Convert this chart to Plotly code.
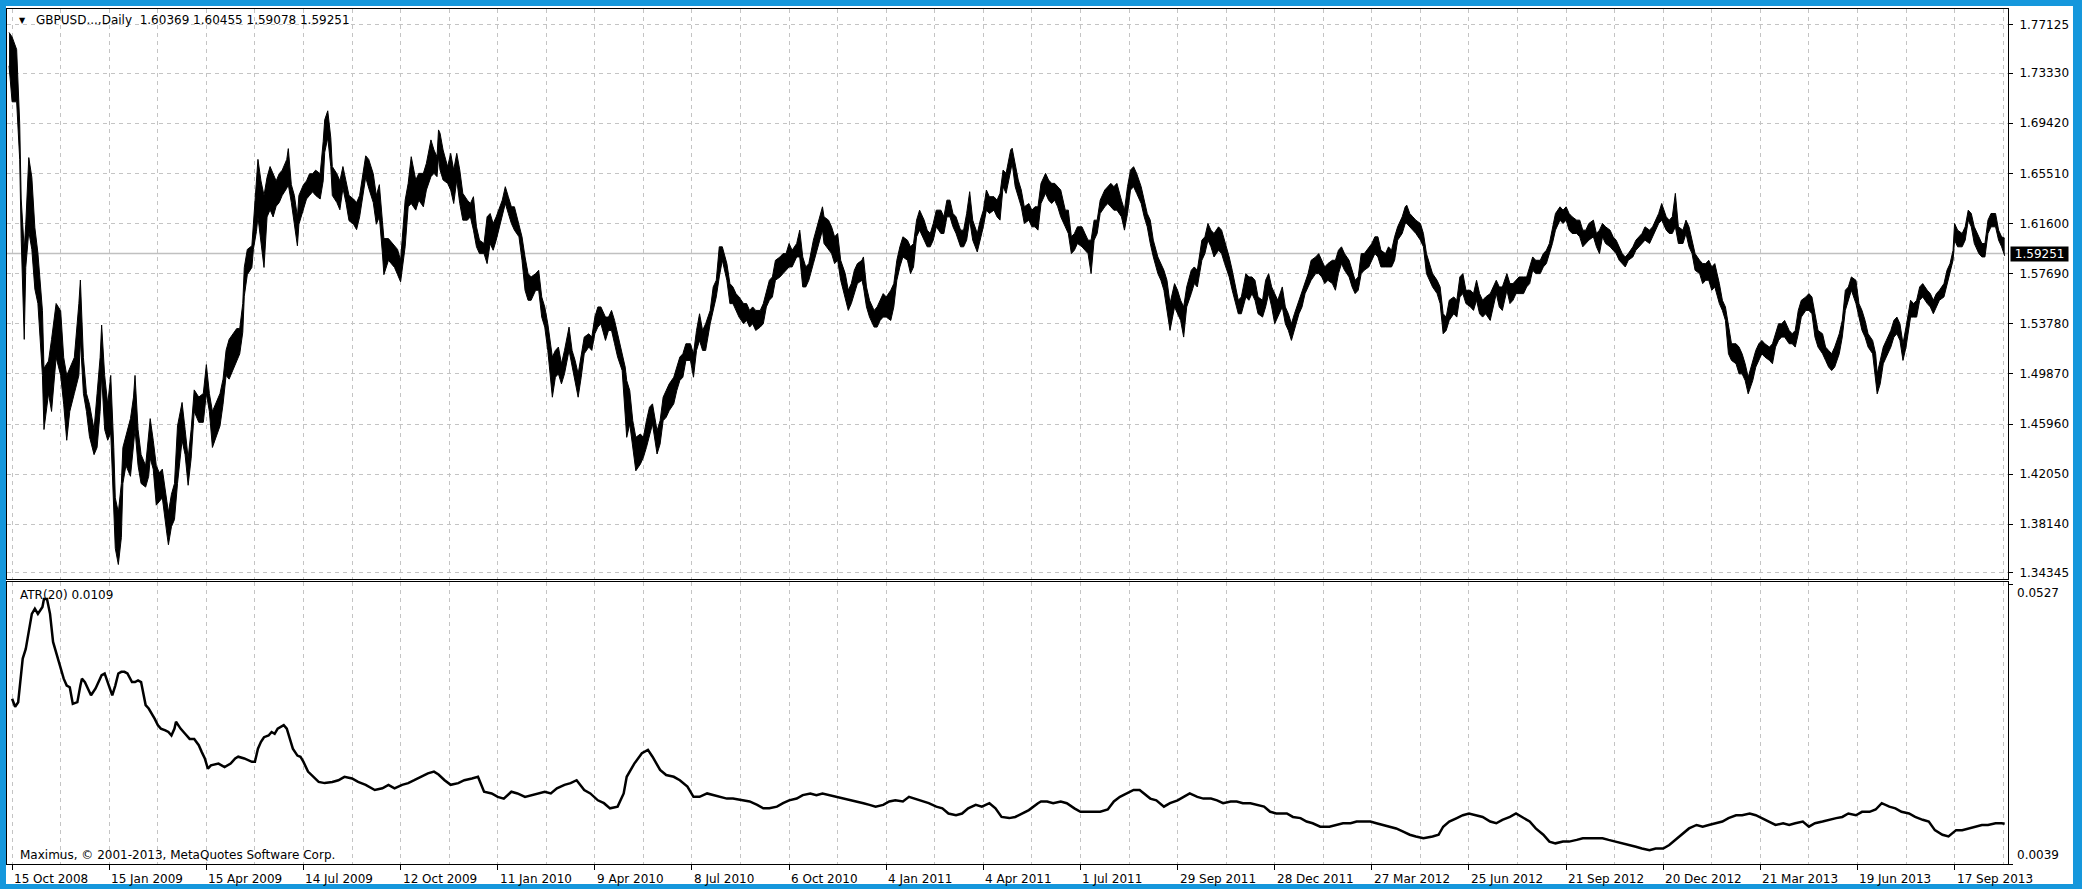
import plotly.graph_objects as go

# ---------------- data ----------------
# bar index 0 = first visible daily bar; 15 Oct 2008 is bar 2
bar_index = [
    0, 2, 5, 7, 8, 10, 11, 13, 15, 17, 19, 22, 23, 26, 28, 31, 34, 36, 38, 40,
    43, 46, 47, 49, 51, 53, 56, 58, 60, 61, 63, 65, 67, 69, 70, 72, 74, 75, 77, 80,
    82, 83, 85, 87, 90, 92, 93, 95, 97, 99, 101, 104, 105, 107, 109, 111, 114, 116, 118, 120,
    122, 125, 128, 130, 132, 134, 137, 139, 141, 143, 145, 148, 150, 152, 154, 155, 157, 160, 161, 163,
    164, 166, 168, 170, 172, 174, 176, 178, 180, 183, 184, 186, 188, 190, 191, 194, 196, 198, 200, 202,
    205, 207, 208, 210, 212, 213, 216, 218, 220, 222, 224, 227, 229, 231, 233, 235, 237, 240, 242, 244,
    246, 247, 250, 252, 254, 256, 258,
    261, 263, 265, 268, 270, 273, 275, 278, 280, 282, 283, 284, 286, 289, 291, 293, 295, 297, 299, 302,
    304, 306, 308, 310, 313, 315, 317, 319, 321, 325, 327, 329, 331, 333, 336, 338, 340, 342, 344, 347,
    349, 351, 353, 355, 358, 360, 362, 364, 366, 369, 371, 373, 375, 377, 379, 382, 384, 386, 388, 390,
    393, 395, 397, 399, 401, 404, 406, 407, 409, 411, 413, 416, 418, 420, 422, 424, 427, 429, 431, 433,
    435, 438, 440, 442, 444, 446, 449, 451, 453, 455, 457, 459, 462, 464, 466, 468, 470, 473, 475, 477,
    479, 481, 484, 486, 488, 490, 492, 495, 497, 499, 501, 503, 505, 508, 510, 512, 514, 516, 519, 521,
    523, 525, 527, 530,
    533, 536, 537, 540, 542, 544, 546, 548, 551, 553, 555, 557, 559, 562, 563, 565, 567, 570, 572, 574,
    576, 578, 581, 583, 585, 587, 589, 592, 594, 596, 598, 600, 603, 605, 607, 609, 611, 614, 616, 618,
    620, 622, 624, 627, 629, 631, 633, 635, 638, 640, 642, 644, 646, 649, 651, 653, 655, 657, 660, 661,
    663, 665, 667, 669, 672, 674, 676, 678, 680, 683, 685, 687, 689, 691, 693, 696, 698, 700, 702, 704,
    707, 709, 711, 713, 715, 717, 719, 722, 724, 726, 728, 730, 733, 735, 737, 739, 741, 743, 746, 748,
    750, 752, 754, 757, 759, 761, 763, 765, 768, 770, 772, 774, 776, 779, 781, 783, 786, 788, 790, 792,
    794,
    797, 799, 801, 804, 806, 808, 810, 812, 815, 817, 819, 821, 823, 826, 828, 830, 832, 834, 836, 839,
    841, 843, 845, 847, 850, 852, 854, 856, 858, 861, 863, 865, 867, 869, 872, 874, 876, 878, 880, 883,
    885, 887, 889, 891, 893, 896, 898, 900, 902, 904, 907, 909, 911, 913, 915, 918, 920, 921, 923, 925,
    927, 930, 932, 934, 936, 938, 941, 943, 945, 947, 949, 952, 954, 956, 958, 960, 963, 965, 967, 969,
    971, 973, 976, 978, 980, 982, 984, 987, 989, 991, 993, 995, 998, 1000, 1002, 1004, 1006, 1009, 1011, 1013,
    1015, 1017, 1019, 1022, 1024, 1026, 1028, 1030, 1033, 1035, 1037, 1039, 1041, 1044, 1046, 1048, 1050, 1052, 1055, 1057,
    1059, 1061, 1063, 1065, 1067, 1070, 1072, 1074, 1076, 1078, 1081, 1083, 1085, 1087, 1089, 1092, 1094, 1096, 1098, 1100,
    1103, 1105, 1107, 1109, 1111, 1114, 1116, 1118, 1120, 1122, 1124, 1127, 1129, 1131, 1133, 1135, 1138, 1140, 1142, 1144,
    1146, 1149, 1151, 1153, 1155, 1157, 1160, 1162, 1164, 1166, 1168, 1170, 1173, 1175, 1177, 1179, 1181, 1184, 1186, 1188,
    1190, 1192, 1195, 1197, 1199, 1201, 1203, 1206, 1208, 1210, 1212, 1214, 1217, 1219, 1221, 1223, 1225, 1228, 1230, 1231,
    1233, 1235, 1237, 1240, 1242, 1244, 1246, 1248, 1250, 1253, 1255, 1257, 1259, 1261, 1264, 1266, 1268, 1270, 1272, 1275,
    1277, 1279, 1281, 1282, 1284, 1287, 1289, 1291, 1293, 1295, 1298, 1300, 1302, 1304, 1306, 1309, 1311, 1313, 1315,
]

bar_high = [
    1.7650, 1.7615, 1.7517, 1.6941, 1.6351, 1.5958, 1.6154, 1.6674, 1.6520, 1.6126,
    1.5930, 1.5480, 1.5031, 1.5087, 1.5256, 1.5536, 1.5480, 1.5115, 1.4975, 1.5031,
    1.5115, 1.5536, 1.5719, 1.5115, 1.4834, 1.4750, 1.4553, 1.4834, 1.5115, 1.5368,
    1.4975, 1.4750, 1.4975, 1.4413, 1.4020, 1.3907, 1.4132, 1.4413, 1.4497, 1.4638,
    1.4806, 1.4975, 1.4553, 1.4357, 1.4272, 1.4553, 1.4638, 1.4469, 1.4272, 1.4216,
    1.4244, 1.3991, 1.3907, 1.4048, 1.4132, 1.4581, 1.4764, 1.4553, 1.4329, 1.4553,
    1.4862, 1.4806, 1.4834, 1.5059, 1.4834, 1.4694, 1.4778, 1.4834, 1.4946, 1.5171,
    1.5256, 1.5312, 1.5340, 1.5340, 1.5536, 1.5817, 1.5958, 1.5986, 1.6154, 1.6492,
    1.6660, 1.6492, 1.6379, 1.6520, 1.6604, 1.6548, 1.6492, 1.6548, 1.6576, 1.6660,
    1.6744, 1.6463, 1.6379, 1.6211, 1.6379, 1.6463, 1.6492, 1.6548, 1.6548, 1.6576,
    1.6548, 1.6800, 1.6969, 1.7039, 1.6828, 1.6604, 1.6548, 1.6492, 1.6604, 1.6492,
    1.6379, 1.6351, 1.6323, 1.6379, 1.6520, 1.6688, 1.6660, 1.6548, 1.6379, 1.6463,
    1.6182, 1.6042, 1.6042, 1.6014, 1.5986, 1.5958, 1.5873,
    1.6342, 1.6473, 1.6681, 1.6499, 1.6551, 1.6551, 1.6629, 1.6812, 1.6733, 1.6681,
    1.6890, 1.6864, 1.6733, 1.6603, 1.6707, 1.6577, 1.6707, 1.6577, 1.6395, 1.6342,
    1.6316, 1.6369, 1.6134, 1.6030, 1.6004, 1.6212, 1.6238, 1.6160, 1.6212, 1.6342,
    1.6447, 1.6369, 1.6290, 1.6290, 1.6160, 1.6056, 1.5899, 1.5769, 1.5743, 1.5769,
    1.5795, 1.5587, 1.5509, 1.5378, 1.5118, 1.5170, 1.5196, 1.5066, 1.5170, 1.5352,
    1.5170, 1.5092, 1.4987, 1.5118, 1.5274, 1.5300, 1.5274, 1.5430, 1.5509, 1.5509,
    1.5430, 1.5430, 1.5482, 1.5404, 1.5300, 1.5144, 1.5040, 1.4935, 1.4857, 1.4622,
    1.4492, 1.4518, 1.4492, 1.4622, 1.4727, 1.4753, 1.4544, 1.4622, 1.4805, 1.4857,
    1.4909, 1.4961, 1.5040, 1.5118, 1.5144, 1.5222, 1.5222, 1.5144, 1.5326, 1.5456,
    1.5326, 1.5378, 1.5482, 1.5665, 1.5717, 1.5978, 1.5978, 1.5847, 1.5691, 1.5665,
    1.5613, 1.5587, 1.5535, 1.5535, 1.5482, 1.5509, 1.5482, 1.5482, 1.5535, 1.5639,
    1.5717, 1.5743, 1.5873, 1.5899, 1.5925, 1.5925, 1.6004, 1.5951, 1.6004, 1.6108,
    1.5899, 1.5821, 1.5847, 1.6030,
    1.6160, 1.6290, 1.6212, 1.6186, 1.6134, 1.6056, 1.6082, 1.5873, 1.5769, 1.5639,
    1.5691, 1.5795, 1.5847, 1.5873, 1.5899, 1.5665, 1.5561, 1.5482, 1.5509, 1.5561,
    1.5613, 1.5587, 1.5639, 1.5691, 1.5873, 1.5978, 1.6056, 1.6030, 1.5978, 1.6004,
    1.6186, 1.6264, 1.6186, 1.6108, 1.6082, 1.6160, 1.6264, 1.6264, 1.6212, 1.6342,
    1.6342, 1.6238, 1.6212, 1.6108, 1.6108, 1.6238, 1.6408, 1.6186, 1.6082, 1.6186,
    1.6264, 1.6421, 1.6369, 1.6369, 1.6342, 1.6395, 1.6577, 1.6551, 1.6734, 1.6747,
    1.6629, 1.6499, 1.6421, 1.6290, 1.6316, 1.6264, 1.6290, 1.6290, 1.6473, 1.6551,
    1.6499, 1.6473, 1.6473, 1.6447, 1.6421, 1.6264, 1.6264, 1.6056, 1.6082, 1.6134,
    1.6134, 1.6082, 1.6030, 1.6030, 1.6186, 1.6186, 1.6342, 1.6421, 1.6447, 1.6473,
    1.6447, 1.6473, 1.6342, 1.6264, 1.6447, 1.6577, 1.6603, 1.6551, 1.6447, 1.6342,
    1.6238, 1.6186, 1.6030, 1.5899, 1.5847, 1.5795, 1.5717, 1.5535, 1.5691, 1.5639,
    1.5561, 1.5509, 1.5665, 1.5795, 1.5821, 1.5795, 1.6030, 1.6056, 1.6160, 1.6108,
    1.6082,
    1.6134, 1.6108, 1.6030, 1.5899, 1.5795, 1.5665, 1.5561, 1.5587, 1.5769, 1.5743,
    1.5743, 1.5717, 1.5587, 1.5561, 1.5717, 1.5769, 1.5665, 1.5613, 1.5561, 1.5665,
    1.5509, 1.5456, 1.5378, 1.5456, 1.5561, 1.5639, 1.5717, 1.5769, 1.5873, 1.5899,
    1.5925, 1.5873, 1.5821, 1.5847, 1.5873, 1.5873, 1.5951, 1.5978, 1.5925, 1.5873,
    1.5795, 1.5717, 1.5743, 1.5925, 1.5925, 1.5978, 1.6004, 1.6056, 1.6056, 1.5951,
    1.5925, 1.5978, 1.5951, 1.6056, 1.6134, 1.6212, 1.6290, 1.6303, 1.6238, 1.6212,
    1.6186, 1.6160, 1.6082, 1.5925, 1.5847, 1.5769, 1.5717, 1.5665, 1.5456, 1.5430,
    1.5561, 1.5587, 1.5561, 1.5743, 1.5769, 1.5639, 1.5639, 1.5613, 1.5717, 1.5613,
    1.5561, 1.5587, 1.5613, 1.5665, 1.5717, 1.5665, 1.5665, 1.5769, 1.5691, 1.5691,
    1.5717, 1.5743, 1.5743, 1.5743, 1.5821, 1.5899, 1.5873, 1.5873, 1.5925, 1.5951,
    1.6004, 1.6108, 1.6238, 1.6290, 1.6264, 1.6290, 1.6238, 1.6212, 1.6186, 1.6186,
    1.6108, 1.6108, 1.6160, 1.6186, 1.6082, 1.6108, 1.6160, 1.6134, 1.6108, 1.6056,
    1.6030, 1.5978, 1.5925, 1.5899, 1.5925, 1.5978, 1.6030, 1.6056, 1.6082, 1.6134,
    1.6108, 1.6134, 1.6186, 1.6238, 1.6316, 1.6212, 1.6186, 1.6212, 1.6395, 1.6134,
    1.6108, 1.6186, 1.6134, 1.6030, 1.5925, 1.5873, 1.5847, 1.5847, 1.5873, 1.5821,
    1.5847, 1.5691, 1.5561, 1.5509, 1.5352, 1.5222, 1.5222, 1.5196, 1.5144, 1.5066,
    1.4961, 1.5092, 1.5170, 1.5222, 1.5248, 1.5222, 1.5196, 1.5222, 1.5300, 1.5378,
    1.5378, 1.5404, 1.5326, 1.5300, 1.5326, 1.5482, 1.5561, 1.5587, 1.5613, 1.5587,
    1.5456, 1.5326, 1.5300, 1.5196, 1.5170, 1.5144, 1.5196, 1.5300, 1.5404, 1.5639,
    1.5665, 1.5743, 1.5717, 1.5535, 1.5482, 1.5404, 1.5300, 1.5248, 1.5144, 1.4987,
    1.5092, 1.5196, 1.5248, 1.5326, 1.5404, 1.5430, 1.5378, 1.5222, 1.5352, 1.5561,
    1.5535, 1.5561, 1.5665, 1.5691, 1.5639, 1.5613, 1.5561, 1.5613, 1.5639, 1.5691,
    1.5795, 1.5847, 1.5951, 1.6160, 1.6108, 1.6082, 1.6134, 1.6264, 1.6238, 1.6134,
    1.6056, 1.6004, 1.6004, 1.6186, 1.6238, 1.6238, 1.6108, 1.6056, 1.60455,
]

bar_low = [
    1.7390, 1.7109, 1.7109, 1.6660, 1.6042, 1.5256, 1.5817, 1.6098, 1.5958, 1.5649,
    1.5536, 1.4975, 1.4553, 1.4834, 1.4694, 1.5115, 1.4975, 1.4750, 1.4469, 1.4694,
    1.4834, 1.4975, 1.5256, 1.4834, 1.4694, 1.4497, 1.4357, 1.4413, 1.4694, 1.4975,
    1.4553, 1.4469, 1.4525, 1.3907, 1.3626, 1.3500, 1.3711, 1.4132, 1.4272, 1.4188,
    1.4413, 1.4553, 1.4272, 1.4132, 1.4104, 1.4188, 1.4329, 1.4244, 1.3963, 1.3991,
    1.4020, 1.3739, 1.3654, 1.3795, 1.3851, 1.4132, 1.4469, 1.4357, 1.4118, 1.4329,
    1.4694, 1.4609, 1.4609, 1.4834, 1.4694, 1.4413, 1.4525, 1.4581, 1.4750, 1.4975,
    1.4946, 1.5031, 1.5087, 1.5143, 1.5312, 1.5593, 1.5761, 1.5817, 1.5958, 1.6098,
    1.6211, 1.5986, 1.5817, 1.6211, 1.6267, 1.6211, 1.6295, 1.6323, 1.6379, 1.6435,
    1.6463, 1.6323, 1.6154, 1.5986, 1.6154, 1.6267, 1.6351, 1.6379, 1.6407, 1.6379,
    1.6351, 1.6492, 1.6716, 1.6828, 1.6604, 1.6379, 1.6323, 1.6267, 1.6435, 1.6323,
    1.6182, 1.6154, 1.6112, 1.6211, 1.6351, 1.6520, 1.6435, 1.6323, 1.6154, 1.6211,
    1.5930, 1.5761, 1.5873, 1.5845, 1.5817, 1.5761, 1.5705,
    1.5978, 1.6290, 1.6316, 1.6264, 1.6342, 1.6290, 1.6421, 1.6525, 1.6551, 1.6525,
    1.6681, 1.6577, 1.6499, 1.6473, 1.6421, 1.6316, 1.6499, 1.6316, 1.6186, 1.6186,
    1.6212, 1.6108, 1.5978, 1.5925, 1.5925, 1.5847, 1.6004, 1.5951, 1.6030, 1.6212,
    1.6316, 1.6238, 1.6160, 1.6108, 1.6056, 1.5873, 1.5639, 1.5561, 1.5561, 1.5639,
    1.5639, 1.5430, 1.5352, 1.5170, 1.4805, 1.4961, 1.4987, 1.4909, 1.4987, 1.5170,
    1.5040, 1.4935, 1.4805, 1.4961, 1.5144, 1.5196, 1.5170, 1.5300, 1.5352, 1.5378,
    1.5248, 1.5326, 1.5326, 1.5222, 1.5118, 1.5013, 1.4700, 1.4492, 1.4596, 1.4388,
    1.4231, 1.4283, 1.4336, 1.4414, 1.4518, 1.4596, 1.4362, 1.4440, 1.4622, 1.4648,
    1.4700, 1.4753, 1.4857, 1.4935, 1.4961, 1.5092, 1.5092, 1.4961, 1.5170, 1.5248,
    1.5170, 1.5170, 1.5378, 1.5482, 1.5587, 1.5743, 1.5873, 1.5717, 1.5535, 1.5535,
    1.5482, 1.5430, 1.5378, 1.5404, 1.5352, 1.5378, 1.5326, 1.5352, 1.5378, 1.5509,
    1.5561, 1.5587, 1.5717, 1.5743, 1.5769, 1.5795, 1.5821, 1.5821, 1.5899, 1.5899,
    1.5665, 1.5665, 1.5717, 1.5847,
    1.5978, 1.6108, 1.6004, 1.5951, 1.5925, 1.5847, 1.5873, 1.5717, 1.5587, 1.5482,
    1.5535, 1.5613, 1.5691, 1.5717, 1.5665, 1.5509, 1.5430, 1.5352, 1.5352, 1.5404,
    1.5430, 1.5430, 1.5404, 1.5509, 1.5717, 1.5821, 1.5899, 1.5873, 1.5769, 1.5821,
    1.6056, 1.6108, 1.6030, 1.5978, 1.5978, 1.6030, 1.6134, 1.6082, 1.6082, 1.6212,
    1.6212, 1.6134, 1.6082, 1.5978, 1.5978, 1.6030, 1.6186, 1.6030, 1.5938, 1.6030,
    1.6134, 1.6264, 1.6238, 1.6264, 1.6212, 1.6186, 1.6447, 1.6395, 1.6577, 1.6629,
    1.6447, 1.6369, 1.6290, 1.6160, 1.6186, 1.6134, 1.6134, 1.6108, 1.6316, 1.6395,
    1.6342, 1.6316, 1.6342, 1.6290, 1.6212, 1.6134, 1.6082, 1.5925, 1.5951, 1.6004,
    1.5978, 1.5951, 1.5925, 1.5769, 1.6030, 1.6082, 1.6238, 1.6290, 1.6316, 1.6290,
    1.6264, 1.6264, 1.6212, 1.6108, 1.6238, 1.6421, 1.6447, 1.6395, 1.6316, 1.6212,
    1.6134, 1.6004, 1.5899, 1.5769, 1.5717, 1.5639, 1.5482, 1.5326, 1.5509, 1.5456,
    1.5404, 1.5274, 1.5509, 1.5613, 1.5691, 1.5665, 1.5873, 1.5925, 1.6030, 1.5978,
    1.5899,
    1.5951, 1.5925, 1.5847, 1.5743, 1.5639, 1.5535, 1.5456, 1.5456, 1.5587, 1.5561,
    1.5613, 1.5561, 1.5456, 1.5430, 1.5509, 1.5613, 1.5509, 1.5378, 1.5430, 1.5509,
    1.5378, 1.5326, 1.5248, 1.5326, 1.5456, 1.5509, 1.5613, 1.5665, 1.5717, 1.5769,
    1.5769, 1.5743, 1.5691, 1.5717, 1.5691, 1.5639, 1.5769, 1.5847, 1.5795, 1.5743,
    1.5665, 1.5613, 1.5639, 1.5769, 1.5795, 1.5821, 1.5873, 1.5925, 1.5899, 1.5821,
    1.5821, 1.5821, 1.5821, 1.5873, 1.6030, 1.6082, 1.6160, 1.6160, 1.6134, 1.6108,
    1.6082, 1.6030, 1.5978, 1.5769, 1.5717, 1.5665, 1.5613, 1.5535, 1.5300, 1.5326,
    1.5404, 1.5456, 1.5430, 1.5587, 1.5613, 1.5535, 1.5509, 1.5482, 1.5561, 1.5456,
    1.5430, 1.5456, 1.5404, 1.5509, 1.5613, 1.5509, 1.5482, 1.5639, 1.5535, 1.5561,
    1.5613, 1.5613, 1.5613, 1.5665, 1.5691, 1.5795, 1.5769, 1.5769, 1.5821, 1.5847,
    1.5925, 1.6004, 1.6108, 1.6186, 1.6160, 1.6186, 1.6108, 1.6082, 1.6082, 1.6056,
    1.5978, 1.6004, 1.6030, 1.6056, 1.5978, 1.5925, 1.6056, 1.6004, 1.5978, 1.5951,
    1.5925, 1.5873, 1.5847, 1.5821, 1.5873, 1.5899, 1.5951, 1.5978, 1.6004, 1.6030,
    1.6004, 1.6056, 1.6108, 1.6160, 1.6186, 1.6108, 1.6082, 1.6082, 1.6134, 1.6004,
    1.6004, 1.6082, 1.5978, 1.5925, 1.5795, 1.5769, 1.5691, 1.5717, 1.5717, 1.5639,
    1.5665, 1.5535, 1.5482, 1.5404, 1.5144, 1.5092, 1.5066, 1.4987, 1.4987, 1.4935,
    1.4831, 1.4935, 1.5040, 1.5092, 1.5144, 1.5118, 1.5092, 1.5066, 1.5196, 1.5248,
    1.5274, 1.5274, 1.5222, 1.5222, 1.5196, 1.5300, 1.5430, 1.5482, 1.5482, 1.5456,
    1.5274, 1.5196, 1.5144, 1.5092, 1.5040, 1.5013, 1.5040, 1.5144, 1.5274, 1.5482,
    1.5561, 1.5639, 1.5535, 1.5430, 1.5326, 1.5274, 1.5196, 1.5144, 1.4961, 1.4831,
    1.4909, 1.5066, 1.5118, 1.5196, 1.5274, 1.5300, 1.5248, 1.5092, 1.5196, 1.5430,
    1.5430, 1.5430, 1.5561, 1.5587, 1.5535, 1.5509, 1.5456, 1.5509, 1.5561, 1.5587,
    1.5691, 1.5769, 1.5873, 1.6030, 1.5978, 1.5978, 1.6030, 1.6186, 1.6134, 1.6004,
    1.5925, 1.5899, 1.5899, 1.6082, 1.6134, 1.6134, 1.6030, 1.5978, 1.59078,
]

atr_index = [
    2, 4, 6, 7, 9, 11, 13, 15, 17, 19, 22, 23, 25, 27, 29, 31, 34, 36, 38, 40,
    42, 45, 47, 48, 50, 52, 54, 57, 59, 61, 63, 65, 68, 70, 72, 74, 76, 78, 81, 83,
    85, 87, 90, 92, 94, 96, 98, 100, 103, 105, 107, 109, 110, 113, 116, 119, 122, 125, 127, 129,
    131, 133, 138, 142, 146, 149, 151, 155, 160, 162, 164, 166, 168, 171, 173, 175, 177, 181, 183, 185,
    187, 190, 192, 194, 197, 204, 208, 213, 217, 221, 226, 230, 235, 241, 246, 250, 254, 259, 263, 267,
    272, 276, 280, 283, 287, 291, 296, 300, 305, 309, 313, 318, 322, 326, 331, 335, 340, 344, 348, 353,
    357, 361, 366, 370, 374, 379, 383, 388, 392, 396, 401, 405, 407, 412, 417, 421, 424, 426, 429, 433,
    438, 442, 447, 451, 455, 460, 464, 468, 473, 477, 484, 488, 493, 497, 501, 506, 510, 514, 519, 523,
    528, 532, 536, 541, 545, 549, 554, 558, 563, 567, 571, 576, 580, 584, 589, 593, 597, 602, 606, 611,
    615, 619, 624, 628, 632, 637, 641, 646, 650, 654, 659, 663, 667, 672, 678, 680, 684, 688, 693, 697,
    702, 706, 710, 715, 719, 724, 728, 732, 737, 741, 745, 748, 752, 756, 761, 765, 770, 774, 778, 783,
    787, 792, 796, 800, 805, 809, 813, 818, 822, 827, 831, 835, 842, 846, 851, 855, 859, 864, 870, 875,
    879, 884, 888, 892, 897, 901, 905, 910, 914, 919, 923, 927, 932, 938, 942, 945, 949, 954, 958, 962,
    967, 971, 976, 980, 984, 989, 993, 998, 1002, 1006, 1011, 1015, 1019, 1024, 1028, 1033, 1037, 1041, 1046, 1050,
    1054, 1059, 1063, 1068, 1072, 1076, 1081, 1085, 1090, 1094, 1098, 1103, 1107, 1112, 1116, 1120, 1125, 1129, 1133, 1138,
    1142, 1147, 1151, 1155, 1160, 1164, 1169, 1173, 1177, 1182, 1186, 1190, 1195, 1199, 1204, 1208, 1212, 1217, 1221, 1226,
    1230, 1234, 1239, 1243, 1247, 1252, 1256, 1261, 1265, 1269, 1274, 1278, 1283, 1287, 1291, 1296, 1300, 1304, 1309, 1313,
    1315,
]

atr_value = [
    0.0327, 0.0313, 0.0321, 0.0350, 0.0397, 0.0414, 0.0446, 0.0475, 0.0484, 0.0475,
    0.0487, 0.0501, 0.0501, 0.0475, 0.0426, 0.0408, 0.0379, 0.0362, 0.0350, 0.0347,
    0.0318, 0.0321, 0.0350, 0.0362, 0.0356, 0.0345, 0.0333, 0.0345, 0.0356, 0.0368,
    0.0371, 0.0356, 0.0333, 0.0350, 0.0371, 0.0374, 0.0374, 0.0371, 0.0356, 0.0356,
    0.0359, 0.0356, 0.0316, 0.0310, 0.0302, 0.0292, 0.0281, 0.0275, 0.0272, 0.0269,
    0.0263, 0.0275, 0.0287, 0.0275, 0.0266, 0.0257, 0.0257, 0.0246, 0.0234, 0.0223,
    0.0205, 0.0211, 0.0214, 0.0208, 0.0214, 0.0223, 0.0226, 0.0223, 0.0217, 0.0217,
    0.0240, 0.0252, 0.0260, 0.0263, 0.0269, 0.0266, 0.0275, 0.0281, 0.0275, 0.0257,
    0.0240, 0.0228, 0.0226, 0.0217, 0.0200, 0.0182, 0.0180, 0.0182, 0.0185, 0.0191,
    0.0188, 0.0182, 0.0177, 0.0168, 0.0171, 0.0177, 0.0171, 0.0177, 0.0180, 0.0185,
    0.0191, 0.0197, 0.0200, 0.0195, 0.0185, 0.0177, 0.0180, 0.0185, 0.0188, 0.0191,
    0.0165, 0.0162, 0.0156, 0.0153, 0.0165, 0.0162, 0.0156, 0.0159, 0.0162, 0.0165,
    0.0162, 0.0171, 0.0177, 0.0180, 0.0185, 0.0168, 0.0162, 0.0150, 0.0145, 0.0136,
    0.0139, 0.0162, 0.0191, 0.0214, 0.0232, 0.0238, 0.0226, 0.0217, 0.0203, 0.0194,
    0.0191, 0.0185, 0.0174, 0.0156, 0.0156, 0.0162, 0.0159, 0.0156, 0.0153, 0.0153,
    0.0150, 0.0148, 0.0142, 0.0136, 0.0136, 0.0139, 0.0145, 0.0150, 0.0153, 0.0159,
    0.0162, 0.0159, 0.0162, 0.0159, 0.0156, 0.0153, 0.0150, 0.0148, 0.0145, 0.0142,
    0.0139, 0.0142, 0.0148, 0.0150, 0.0148, 0.0156, 0.0153, 0.0148, 0.0145, 0.0139,
    0.0136, 0.0127, 0.0124, 0.0127, 0.0136, 0.0142, 0.0139, 0.0145, 0.0136, 0.0121,
    0.0119, 0.0121, 0.0127, 0.0133, 0.0145, 0.0148, 0.0148, 0.0145, 0.0148, 0.0145,
    0.0136, 0.0130, 0.0130, 0.0130, 0.0130, 0.0134, 0.0148, 0.0156, 0.0162, 0.0168,
    0.0168, 0.0162, 0.0153, 0.0150, 0.0139, 0.0145, 0.0150, 0.0156, 0.0162, 0.0156,
    0.0153, 0.0153, 0.0150, 0.0145, 0.0148, 0.0148, 0.0145, 0.0145, 0.0142, 0.0139,
    0.0130, 0.0127, 0.0127, 0.0121, 0.0119, 0.0113, 0.0110, 0.0104, 0.0104, 0.0107,
    0.0110, 0.0110, 0.0113, 0.0113, 0.0113, 0.0110, 0.0107, 0.0104, 0.0101, 0.0095,
    0.0090, 0.0087, 0.0084, 0.0087, 0.0090, 0.0104, 0.0113, 0.0119, 0.0124, 0.0127,
    0.0124, 0.0121, 0.0113, 0.0110, 0.0116, 0.0121, 0.0127, 0.0119, 0.0113, 0.0101,
    0.0090, 0.0078, 0.0075, 0.0078, 0.0078, 0.0081, 0.0084, 0.0084, 0.0084, 0.0084,
    0.0081, 0.0078, 0.0075, 0.0072, 0.0069, 0.0066, 0.0063, 0.0066, 0.0066, 0.0072,
    0.0081, 0.0092, 0.0101, 0.0107, 0.0104, 0.0107, 0.0110, 0.0113, 0.0119, 0.0124,
    0.0124, 0.0127, 0.0124, 0.0119, 0.0113, 0.0107, 0.0110, 0.0107, 0.0110, 0.0113,
    0.0104, 0.0110, 0.0113, 0.0116, 0.0119, 0.0121, 0.0127, 0.0124, 0.0130, 0.0130,
    0.0134, 0.0145, 0.0139, 0.0136, 0.0130, 0.0127, 0.0121, 0.0116, 0.0113, 0.0098,
    0.0090, 0.0087, 0.0098, 0.0098, 0.0101, 0.0104, 0.0107, 0.0107, 0.0110, 0.0110,
    0.0109,
]

price_ticks = [1.77125, 1.73330, 1.69420, 1.65510, 1.61600, 1.57690,
               1.53780, 1.49870, 1.45960, 1.42050, 1.38140, 1.34345]

date_labels = ["15 Oct 2008", "15 Jan 2009", "15 Apr 2009", "14 Jul 2009", "12 Oct 2009",
               "11 Jan 2010", "9 Apr 2010", "8 Jul 2010", "6 Oct 2010", "4 Jan 2011",
               "4 Apr 2011", "1 Jul 2011", "29 Sep 2011", "28 Dec 2011", "27 Mar 2012",
               "25 Jun 2012", "21 Sep 2012", "20 Dec 2012", "21 Mar 2013", "19 Jun 2013",
               "17 Sep 2013"]
date_tick_index = [2, 66, 130, 194, 258, 322, 386, 450, 514, 578, 642,
                   706, 770, 834, 898, 962, 1026, 1090, 1154, 1218, 1282]

last_open, last_high, last_low, last_close = 1.60369, 1.60455, 1.59078, 1.59251
atr_last = 0.0109
atr_max_label, atr_min_label = 0.0527, 0.0039
symbol_text = "GBPUSD...,Daily"
copyright_text = "Maximus, \u00a9 2001-2013, MetaQuotes Software Corp."

# ---------------- styling ----------------
W, H = 2082, 889
BLUE = "#1597DC"
GRID = "#C4C4C4"
FONT = "DejaVu Sans, Verdana, sans-serif"
FS = 12
X_RANGE = [-1.36, 1317.2]

fig = go.Figure()

# price: band between daily highs and lows
fig.add_trace(go.Scatter(x=bar_index, y=bar_high, mode="lines",
                         line=dict(color="black", width=1), hoverinfo="skip",
                         xaxis="x", yaxis="y", showlegend=False))
fig.add_trace(go.Scatter(x=bar_index, y=bar_low, mode="lines",
                         line=dict(color="black", width=1), fill="tonexty",
                         fillcolor="black", hoverinfo="skip",
                         xaxis="x", yaxis="y", showlegend=False))

# ATR(20)
fig.add_trace(go.Scatter(x=atr_index, y=atr_value, mode="lines",
                         line=dict(color="black", width=2.5),
                         hoverinfo="skip", xaxis="x2", yaxis="y2", showlegend=False))

axis_line = dict(showline=True, mirror=True, linecolor="black", linewidth=1, zeroline=False)

fig.update_layout(
    width=W, height=H, autosize=False,
    margin=dict(l=7, r=74, t=9, b=25, pad=0),
    paper_bgcolor=BLUE, plot_bgcolor="white",
    font=dict(family=FONT, size=FS, color="black"),
    xaxis=dict(domain=[0, 1], range=X_RANGE, anchor="y",
               tickmode="linear", tick0=2, dtick=32, showticklabels=False, ticks="",
               showgrid=True, gridcolor=GRID, griddash="4px,4px", gridwidth=1,
               **axis_line),
    yaxis=dict(domain=[0.33333, 1], range=[1.3387, 1.7833], side="right", anchor="x",
               tickmode="array", tickvals=price_ticks,
               ticktext=[f"{v:.5f}" for v in price_ticks],
               ticks="outside", ticklen=4, tickcolor="black", ticklabelstandoff=4,
               tickfont=dict(family=FONT, size=FS, color="black"),
               showgrid=True, gridcolor=GRID, griddash="4px,4px", gridwidth=1,
               **axis_line),
    xaxis2=dict(domain=[0, 1], range=X_RANGE, anchor="y2",
                tickmode="array", tickvals=date_tick_index, showticklabels=False,
                ticks="outside", ticklen=5, tickcolor="black",
                showgrid=True, gridcolor=GRID, griddash="4px,4px", gridwidth=1,
                minor=dict(tickmode="linear", tick0=34, dtick=64, showgrid=True,
                           gridcolor=GRID, griddash="4px,4px", gridwidth=1, ticks=""),
                **axis_line),
    yaxis2=dict(domain=[0, 0.32982], range=[0.0039, 0.05305], side="right", anchor="x2",
                tickmode="array", tickvals=[atr_min_label, atr_max_label],
                showticklabels=False, ticks="outside", ticklen=4, tickcolor="black",
                showgrid=False, **axis_line),
)

shapes = [
    # white chart window inside the blue frame
    dict(type="rect", xref="paper", yref="paper", x0=-0.0005, x1=1.03248,
         y0=-0.02339, y1=1.00351, fillcolor="white", line=dict(width=0), layer="below"),
    # bid line
    dict(type="line", xref="x domain", yref="y", x0=0, x1=1,
         y0=last_close, y1=last_close, line=dict(color="#C0C0C0", width=1.5), layer="below"),
]
fig.update_layout(shapes=shapes)

ann = []
# symbol header
ann.append(dict(xref="paper", yref="paper", x=0, y=1, xanchor="left", yanchor="middle",
                xshift=10, yshift=-11, text="\u25bc", showarrow=False,
                font=dict(family="DejaVu Sans", size=8, color="black")))
ann.append(dict(xref="paper", yref="paper", x=0, y=1, xanchor="left", yanchor="middle",
                xshift=27, yshift=-11, showarrow=False,
                text=f"{symbol_text}\u00a0\u00a0{last_open:.5f} {last_high:.5f} {last_low:.5f} {last_close:.5f}",
                font=dict(family=FONT, size=FS, color="black")))
# ATR header
ann.append(dict(xref="paper", yref="paper", x=0, y=0.32982, xanchor="left", yanchor="middle",
                xshift=11, yshift=-13, showarrow=False,
                text=f"ATR(20) {atr_last:.4f}", font=dict(family=FONT, size=FS, color="black")))
# copyright
ann.append(dict(xref="paper", yref="paper", x=0, y=0, xanchor="left", yanchor="middle",
                xshift=11, yshift=9, showarrow=False, text=copyright_text,
                font=dict(family=FONT, size=FS, color="black")))
# ATR scale labels
ann.append(dict(xref="paper", yref="y2", x=1, y=atr_max_label, xanchor="left", yanchor="top",
                xshift=7, yshift=0, showarrow=False, text=f"{atr_max_label:.4f}",
                font=dict(family=FONT, size=FS, color="black")))
ann.append(dict(xref="paper", yref="y2", x=1, y=atr_min_label, xanchor="left", yanchor="bottom",
                xshift=7, yshift=0, showarrow=False, text=f"{atr_min_label:.4f}",
                font=dict(family=FONT, size=FS, color="black")))
# current price marker
ann.append(dict(xref="paper", yref="y", x=1, y=last_close, xanchor="left", yanchor="middle",
                xshift=2, showarrow=False, text=f"\u00a0{last_close:.5f}\u00a0",
                bgcolor="black", borderpad=0,
                font=dict(family=FONT, size=FS, color="white")))
# date labels (left aligned at the tick like MetaTrader)
for idx, lab in zip(date_tick_index, date_labels):
    ann.append(dict(xref="x2", yref="paper", x=idx, y=0, xanchor="left", yanchor="top",
                    xshift=0, yshift=-6, showarrow=False, text=lab,
                    font=dict(family=FONT, size=FS, color="black")))
fig.update_layout(annotations=ann)

fig.write_html(
    "out.html",
    config={"displayModeBar": False},
    post_script="document.body.style.margin='0';document.body.style.padding='0';"
                "document.body.style.overflow='hidden';",
)
